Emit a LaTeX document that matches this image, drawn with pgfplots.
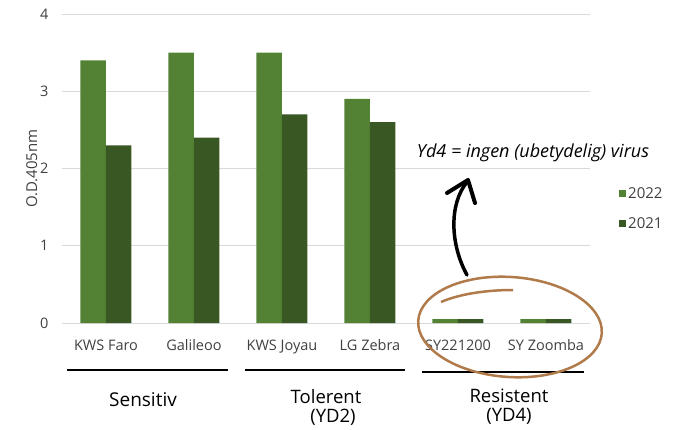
\documentclass[border=0pt]{standalone}
\usepackage{fontspec}
\setmainfont{Open Sans}
\usepackage{pgfplots}
\pgfplotsset{compat=1.18}
\usetikzlibrary{arrows.meta}
\definecolor{g22}{HTML}{548235}
\definecolor{g21}{HTML}{385723}
\definecolor{brn}{HTML}{B07A4A}
\definecolor{gridc}{HTML}{D9D9D9}
\definecolor{txt}{HTML}{404040}
\begin{document}
\begin{tikzpicture}[x=1pt,y=1pt]
\path (0,0) rectangle (678,429);
\begin{axis}[
  at={(62pt,106pt)}, anchor=south west,
  scale only axis, width=528pt, height=309pt,
  ybar=0pt, bar width=25.5pt,
  xmin=-0.5, xmax=5.5, ymin=0, ymax=4,
  xtick={0,1,2,3,4,5},
  xticklabels={KWS Faro,Galileoo,KWS Joyau,LG Zebra,SY221200,SY Zoomba},
  ytick={0,1,2,3,4},
  axis line style={draw=none},
  major tick length=0pt,
  ymajorgrids, grid style={gridc, line width=1pt},
  /pgf/number format/assume math mode=true,
  tick label style={font=\fontsize{14.5}{16}\selectfont, text=txt},
  xticklabel style={yshift=-13pt},
  yticklabel style={xshift=-10pt},
  ylabel={O.D.405nm},
  ylabel style={font=\fontsize{15}{17}\selectfont, text=txt, yshift=-4pt},
  legend style={draw=none, at={(1.055,0.37)}, anchor=west,
     font=\fontsize{15}{17}\selectfont, text=txt, row sep=13pt,
     legend cell align=left, inner xsep=0pt},
  legend image code/.code={\fill[#1] (0pt,-3.5pt) rectangle (7pt,3.5pt);},
]
\addplot[fill=g22, draw=none] coordinates {(0,3.4) (1,3.5) (2,3.5) (3,2.9) (4,0.05) (5,0.05)};
\addplot[fill=g21, draw=none] coordinates {(0,2.3) (1,2.4) (2,2.7) (3,2.6) (4,0.05) (5,0.05)};
\legend{2022,2021}
\end{axis}
% group lines
\draw[line width=2.5pt] (67,59) -- (228,59);
\draw[line width=2.5pt] (245,59) -- (405,59);
\draw[line width=2.5pt] (422,57) -- (584,57);
\node[font=\fontsize{19}{21}\selectfont] at (143,29) {Sensitiv};
\node[font=\fontsize{18.5}{19}\selectfont, align=center, inner sep=0pt] at (326,22) {Tolerent\\\hspace*{14pt}(YD2)};
\node[font=\fontsize{18.5}{19}\selectfont, align=center, inner sep=0pt] at (509,22) {Resistent\\(YD4)};
% annotation
\node[font=\fontsize{18}{20}\selectfont\itshape] at (533,276) {Yd4 = ingen (ubetydelig) virus};
\draw[line width=3.5pt, line cap=round] (467,154) .. controls (450,185) and (449,225) .. (467,247);
\draw[line width=4pt, line cap=round, line join=round] (447,236) -- (468,249) -- (475,226);
% ellipse
\draw[brn, line width=2.5pt, rotate around={-4:(510,102)}] (510,102) ellipse [x radius=92, y radius=50];
\draw[brn, line width=2.5pt] (441,127) .. controls (462,136) and (490,139) .. (513,139);
\end{tikzpicture}
\end{document}
